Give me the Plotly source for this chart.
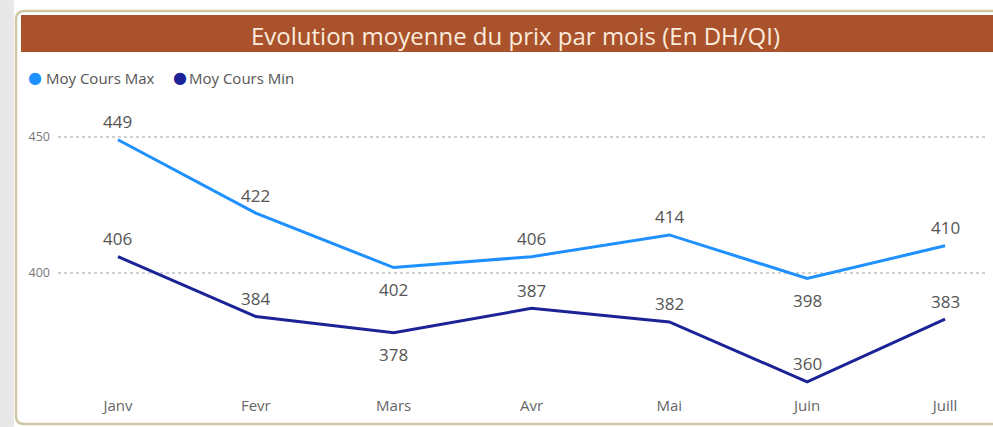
import plotly.graph_objects as go

months = ["Janv", "Fevr", "Mars", "Avr", "Mai", "Juin", "Juill"]
moy_max = [449, 422, 402, 406, 414, 398, 410]
moy_min = [406, 384, 378, 387, 382, 360, 383]
max_label_above = [True, True, False, True, True, False, True]
min_label_above = [True, True, False, True, True, True, True]
y_ticks = [400, 450]
series_names = ["Moy Cours Max", "Moy Cours Min"]

W, H = 993, 427
L, R, T, B = 58, 8, 100, 35
PW, PH = W - L - R, H - T - B

def px(x):
    return (x - L) / PW

def py(y):
    return (H - B - y) / PH

FONT = "Open Sans"
C_MAX, C_MIN = "#1E90FF", "#1C2396"
fig = go.Figure()
for name, vals, col in [(series_names[0], moy_max, C_MAX), (series_names[1], moy_min, C_MIN)]:
    fig.add_trace(go.Scatter(x=months, y=vals, mode="lines", line=dict(color=col, width=3),
                             showlegend=False, hoverinfo="x+y", name=name))

annotations = [dict(text="Evolution moyenne du prix par mois (En DH/QI)", xref="paper", yref="paper",
                    x=px(515), y=py(35), xanchor="center", yanchor="middle", showarrow=False,
                    font=dict(size=24, color="#FBEBDD", family=FONT))]
# legend drawn as dot + text
for name, col, xd, xt in [(series_names[0], C_MAX, 35, 44), (series_names[1], C_MIN, 180, 187)]:
    annotations.append(dict(text="●", xref="paper", yref="paper", x=px(xd), y=py(78),
                            xanchor="center", yanchor="middle", showarrow=False,
                            font=dict(size=16, color=col, family="DejaVu Sans")))
    annotations.append(dict(text=name, xref="paper", yref="paper",
                            x=px(xt), y=py(78), xanchor="left", yanchor="middle", showarrow=False,
                            font=dict(size=15, color="#555555", family=FONT)))
for vals, above in [(moy_max, max_label_above), (moy_min, min_label_above)]:
    for m, v, a in zip(months, vals, above):
        annotations.append(dict(x=m, y=v, text=str(v), showarrow=False, xref="x", yref="y",
                                yshift=18 if a else -22, yanchor="middle",
                                font=dict(size=17, color="#555555", family=FONT)))

shapes = [
    dict(type="rect", xref="paper", yref="paper", x0=px(0), x1=px(14), y0=py(H), y1=py(0),
         fillcolor="#E8E8E8", line=dict(width=0), layer="below"),
    dict(type="path", xref="paper", yref="paper",
         path=f"M {px(16)},{py(20)} L {px(16)},{py(416)} Q {px(16)},{py(424)} {px(24)},{py(424)} "
              f"L {px(1000)},{py(424)} L {px(1000)},{py(11)} L {px(24)},{py(11)} Q {px(16)},{py(11)} {px(16)},{py(20)} Z",
         fillcolor="#FFFFFF", line=dict(color="#CFC6A6", width=2.5), layer="below"),
    dict(type="rect", xref="paper", yref="paper", x0=px(21), x1=px(995), y0=py(52), y1=py(15),
         fillcolor="#A9522B", line=dict(width=0), layer="below"),
]

fig.update_layout(
    width=W, height=H,
    margin=dict(l=L, r=R, t=T, b=B, autoexpand=False),
    paper_bgcolor="white", plot_bgcolor="rgba(0,0,0,0)",
    font=dict(family=FONT, color="#555555"),
    shapes=shapes, annotations=annotations,
    showlegend=False,
    xaxis=dict(type="category", range=[-0.435, 6.29], showgrid=False, zeroline=False, showline=False,
               tickfont=dict(size=15, color="#666666", family=FONT), ticks="", ticklabelstandoff=3),
    yaxis=dict(range=[356.25, 463.6], tickvals=y_ticks, showgrid=True, gridcolor="#D0D0D0",
               griddash="dot", gridwidth=1.5, zeroline=False, showline=False,
               tickfont=dict(size=12.5, color="#777777", family=FONT), ticks="", ticklabelstandoff=7),
)
fig.write_html("out.html", config={"displayModeBar": False},
               post_script="document.body.style.margin='0';document.body.style.overflow='hidden';")
